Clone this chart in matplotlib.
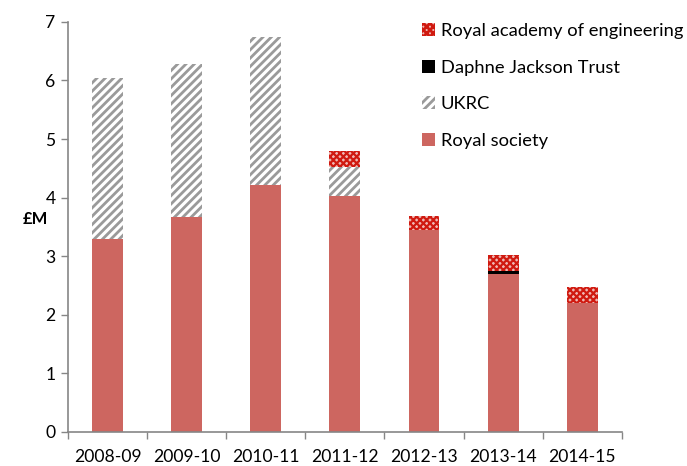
import matplotlib
matplotlib.use("Agg")
import matplotlib.pyplot as plt
import numpy as np

plt.rcParams['font.family'] = ['Lato', 'DejaVu Sans']
plt.rcParams['hatch.linewidth'] = 2.0

years = ["2008-09", "2009-10", "2010-11", "2011-12", "2012-13", "2013-14", "2014-15"]
royal_society = [3.29, 3.67, 4.22, 4.02, 3.44, 2.70, 2.20]
ukrc = [2.75, 2.61, 2.52, 0.51, 0.0, 0.0, 0.0]
daphne_jackson = [0.0, 0.0, 0.0, 0.0, 0.0, 0.04, 0.0]
royal_academy = [0.0, 0.0, 0.0, 0.27, 0.25, 0.28, 0.27]

fig = plt.figure(figsize=(6.87, 4.66), dpi=100)
ax = fig.add_axes([0.099, 0.073, 0.806, 0.88])

x = np.arange(len(years))
w = 0.39
bottom = np.zeros(len(years))

rs = ax.bar(x, royal_society, w, bottom=bottom, color="#cd6660", linewidth=0, label="Royal society")
bottom += royal_society
uk = ax.bar(x, ukrc, w, bottom=bottom, facecolor="white", edgecolor="#9a9a9a",
            hatch="////", linewidth=0, label="UKRC")
bottom += ukrc
dj = ax.bar(x, daphne_jackson, w, bottom=bottom, color="black", linewidth=0, label="Daphne Jackson Trust")
bottom += daphne_jackson
ra = ax.bar(x, royal_academy, w, bottom=bottom, facecolor="#f0b8b4", edgecolor="#d01a10",
            hatch="xxxxx", linewidth=0, label="Royal academy of engineering")
for p in ra:
    p.set_hatch_linewidth(1.6)

ax.set_xlim(-0.5, len(years) - 0.5)
ax.set_ylim(0, 7)
ax.set_yticks(range(0, 8))
ax.set_xticks(x)
ax.set_xticklabels(years)
ax.set_xticks(np.arange(-0.5, len(years)), minor=True)
ax.tick_params(axis="x", which="major", length=0, pad=12, labelsize=12.6)
ax.tick_params(axis="x", which="minor", length=5, color="#868686", width=1)
ax.tick_params(axis="y", length=5, color="#868686", width=1, labelsize=12.6, pad=4)

for s in ["top", "right"]:
    ax.spines[s].set_visible(False)
for s in ["left", "bottom"]:
    ax.spines[s].set_color("#868686")
    ax.spines[s].set_linewidth(1.2)

ax.set_ylabel("£M", rotation=0, fontweight="bold", fontsize=12, labelpad=14)
ax.yaxis.set_label_coords(-0.058, 0.5)

handles = [ra, dj, uk, rs]
leg = ax.legend(handles, [h.get_label() for h in handles], loc="upper left",
                bbox_to_anchor=(0.61, 1.037), frameon=False, fontsize=13.2,
                handlelength=0.7, handleheight=0.7, handletextpad=0.3, labelspacing=1.12)

fig.savefig("out.png", dpi=100)
